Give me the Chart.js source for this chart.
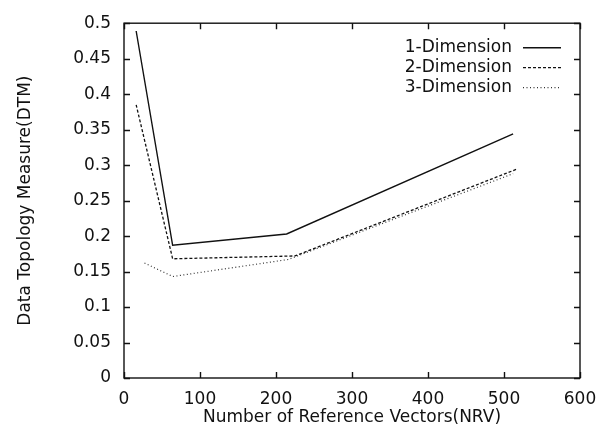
<!DOCTYPE html>
<html>
<head>
<meta charset="utf-8">
<script src="https://cdn.jsdelivr.net/npm/chart.js@4"></script>
<style>
  html, body { margin: 0; padding: 0; background: #fff; }
  #wrap { width: 610px; height: 428px; }
</style>
</head>
<body>
<div id="wrap"><canvas id="chart1"></canvas></div>
<script>
// values
const seriesNames = ["1-Dimension", "2-Dimension", "3-Dimension"];
const nrv1 = [16, 64, 214, 512];
const dtm1 = [0.489, 0.187, 0.203, 0.344];
const nrv2 = [16, 64, 225, 516];
const dtm2 = [0.385, 0.168, 0.172, 0.294];
const nrv3 = [27, 64, 216, 512];
const dtm3 = [0.162, 0.143, 0.167, 0.288];
const xTicks = [0, 100, 200, 300, 400, 500, 600];
const yTicks = [0, 0.05, 0.1, 0.15, 0.2, 0.25, 0.3, 0.35, 0.4, 0.45, 0.5];

const FONT = "'DejaVu Sans', sans-serif";
const ink = "#111";

function points(xs, ys) {
  return xs.map((x, i) => ({ x: x, y: ys[i] }));
}

// tick marks pointing into the plot on all four sides, plus the frame
const frameTicks = {
  id: "frameTicks",
  afterDatasetsDraw(chart) {
    const ctx = chart.ctx;
    const a = chart.chartArea;
    const xs = chart.scales.x, ys = chart.scales.y;
    const len = 6;
    ctx.save();
    ctx.strokeStyle = ink;
    ctx.lineWidth = 1.4;
    ctx.strokeRect(a.left, a.top, a.right - a.left, a.bottom - a.top);
    ctx.beginPath();
    xTicks.forEach(v => {
      const px = Math.round(xs.getPixelForValue(v)) + 0.5;
      ctx.moveTo(px, a.bottom); ctx.lineTo(px, a.bottom - len);
      ctx.moveTo(px, a.top); ctx.lineTo(px, a.top + len);
    });
    yTicks.forEach(v => {
      const py = Math.round(ys.getPixelForValue(v)) + 0.5;
      ctx.moveTo(a.left, py); ctx.lineTo(a.left + len, py);
      ctx.moveTo(a.right, py); ctx.lineTo(a.right - len, py);
    });
    ctx.stroke();
    ctx.restore();
  }
};

// legend in the top right corner: name, then a line sample
const cornerLegend = {
  id: "cornerLegend",
  afterDatasetsDraw(chart) {
    const ctx = chart.ctx;
    const a = chart.chartArea;
    ctx.save();
    ctx.font = "17px " + FONT;
    ctx.fillStyle = ink;
    ctx.textAlign = "right";
    ctx.textBaseline = "middle";
    chart.data.datasets.forEach((ds, i) => {
      const y = a.top + 24 + i * 20;
      ctx.fillText(ds.label, a.right - 68, y);
      ctx.beginPath();
      ctx.setLineDash(ds.borderDash || []);
      ctx.lineWidth = ds.borderWidth;
      ctx.strokeStyle = ds.borderColor;
      ctx.moveTo(a.right - 57, y + 0.5);
      ctx.lineTo(a.right - 19, y + 0.5);
      ctx.stroke();
    });
    ctx.restore();
  }
};

new Chart(document.getElementById("chart1"), {
  type: "scatter",
  data: {
    datasets: [
      {
        label: seriesNames[0],
        data: points(nrv1, dtm1),
        borderColor: ink,
        borderWidth: 1.4,
        showLine: true,
        pointRadius: 0,
      },
      {
        label: seriesNames[1],
        data: points(nrv2, dtm2),
        borderColor: ink,
        borderWidth: 1.3,
        borderDash: [3, 2],
        showLine: true,
        pointRadius: 0,
      },
      {
        label: seriesNames[2],
        data: points(nrv3, dtm3),
        borderColor: "#333",
        borderWidth: 1.2,
        borderDash: [1, 2.5],
        showLine: true,
        pointRadius: 0,
      },
    ],
  },
  options: {
    responsive: true,
    maintainAspectRatio: false,
    animation: false,
    layout: { padding: { top: 21, right: 30, left: 0, bottom: 0 } },
    scales: {
      x: {
        type: "linear",
        min: 0,
        max: 600,
        afterBuildTicks: s => { s.ticks = xTicks.map(v => ({ value: v })); },
        afterFit: s => { s.height = 50; },
        grid: { display: false, drawTicks: false },
        border: { display: false },
        ticks: {
          padding: 11,
          color: ink,
          font: { family: FONT, size: 17 },
          maxRotation: 0,
          callback: v => String(v),
        },
        title: {
          display: true,
          text: "Number of Reference Vectors(NRV)",
          color: ink,
          font: { family: FONT, size: 17 },
          padding: { top: 0, bottom: 0 },
        },
      },
      y: {
        type: "linear",
        min: 0,
        max: 0.5,
        afterBuildTicks: s => { s.ticks = yTicks.map(v => ({ value: v })); },
        afterFit: s => { s.width = 124; },
        grid: { display: false, drawTicks: false },
        border: { display: false },
        ticks: {
          padding: 13,
          color: ink,
          font: { family: FONT, size: 17 },
          callback: v => String(v),
        },
        title: {
          display: true,
          text: "Data Topology Measure(DTM)",
          color: ink,
          font: { family: FONT, size: 17 },
          padding: { top: 15, bottom: 0 },
        },
      },
    },
    plugins: {
      legend: { display: false },
      tooltip: { enabled: false },
    },
  },
  plugins: [frameTicks, cornerLegend],
});
</script>
</body>
</html>
